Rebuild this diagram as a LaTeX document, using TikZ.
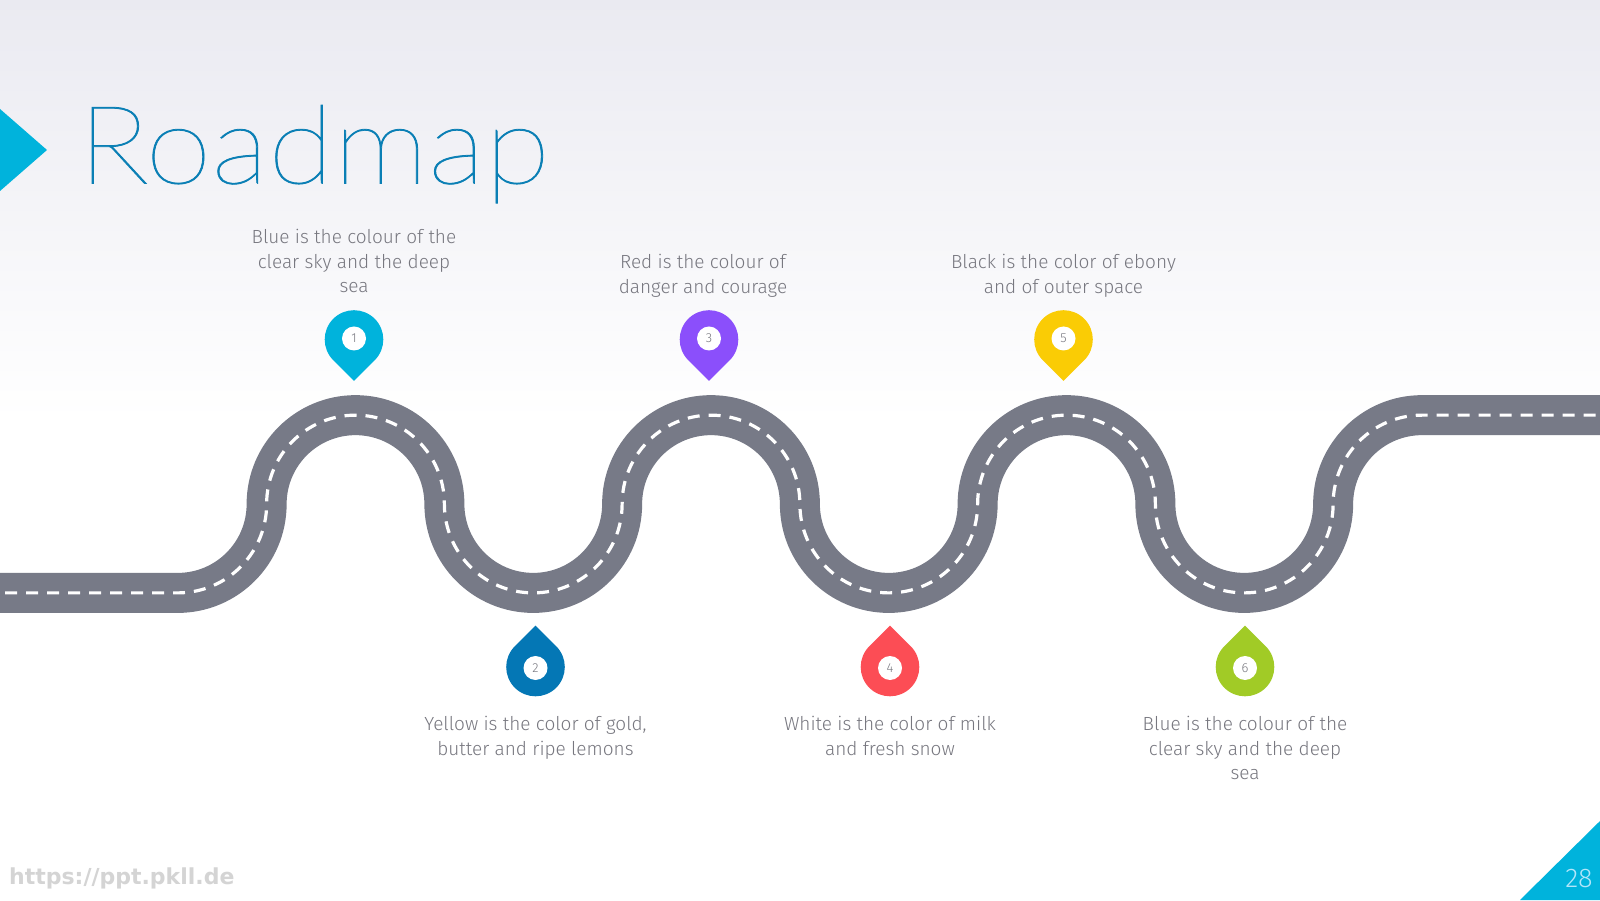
\documentclass[tikz,border=0pt]{standalone}
\usepackage{fontspec}
\setmainfont{Fira Sans Light}
\newfontfamily\titlefont[FakeStretch=1.1,FakeBold=0.7]{Lato Thin}
\newfontfamily\markfont{DejaVu Sans Bold}
\definecolor{bgtop}{HTML}{EAEAF1}
\definecolor{roadgrey}{HTML}{777A87}
\definecolor{cyanmark}{HTML}{00B3DC}
\definecolor{titleblue}{HTML}{0A7FB5}
\definecolor{bodygrey}{HTML}{77777F}
\definecolor{pinone}{HTML}{00B3DC}
\definecolor{pintwo}{HTML}{0477B5}
\definecolor{pinthree}{HTML}{8B4FFB}
\definecolor{pinfour}{HTML}{FC4D55}
\definecolor{pinfive}{HTML}{FACC05}
\definecolor{pinsix}{HTML}{A1CB26}
\tikzset{
  x=1pt,y=1pt,
  caption/.style={align=center,text=bodygrey,font=\fontsize{19}{24.5}\selectfont,inner sep=0pt,
    execute at begin node=\strut,execute at end node=\strut},
  pinhole/.style={circle,fill=white,minimum size=24pt,inner sep=0pt,text=bodygrey,font=\fontsize{13}{13}\selectfont},
}
% drop-shaped marker: #1 name, #2 x, #3 y of the head centre, #4 tip direction (1 down, -1 up), #5 colour, #6 number
\newcommand{\roadpin}[6]{%
  \fill[#5] ({#2+29.3*cos(45-90*#4)},{#3+29.3*sin(45-90*#4)})
     arc[start angle={45-90*#4},delta angle=270,radius=29.3]
     -- (#2,{#3-41.4*#4}) -- cycle;
  \node[pinhole] (#1) at (#2,{#3+#4}) {#6};
}
\begin{document}
\begin{tikzpicture}
\useasboundingbox (0,0) rectangle (1600,900);
\clip (0,0) rectangle (1600,900);
% page background
\fill[white] (0,0) rectangle (1600,900);
\shade[top color=bgtop,bottom color=white] (0,480) rectangle (1600,900);
% corner marks
\fill[cyanmark] (0,791) -- (47,750) -- (0,709) -- cycle;
\fill[cyanmark] (1520,0) -- (1600,79) -- (1600,0) -- cycle;
\node[text=white!70!cyan,font=\fontsize{27}{27}\selectfont,inner sep=0pt] (pageno) at (1579,21.5) {28};
% title
\node[anchor=base west,text=titleblue,font=\titlefont\fontsize{109}{109}\selectfont,inner sep=0pt] (title) at (78,716.5) {Roadmap};
% winding road
\def\roadline{(-16,307.1) -- (177.75,307.1)
  arc[start angle=270,end angle=360,radius=88.875]
  arc[start angle=180,end angle=0,radius=88.875]
  arc[start angle=180,end angle=360,radius=88.875]
  arc[start angle=180,end angle=0,radius=88.875]
  arc[start angle=180,end angle=360,radius=88.875]
  arc[start angle=180,end angle=0,radius=88.875]
  arc[start angle=180,end angle=360,radius=88.875]
  arc[start angle=180,end angle=90,radius=88.875] -- (1620,484.875)}
\draw[roadgrey,line width=40pt] \roadline;
\draw[white,line width=3.2pt,dash pattern=on 12pt off 9pt] \roadline;
% markers
\roadpin{p1}{354}{560.5}{1}{pinone}{1}
\roadpin{p2}{535.5}{233}{-1}{pintwo}{2}
\roadpin{p3}{709}{560.5}{1}{pinthree}{3}
\roadpin{p4}{890}{233}{-1}{pinfour}{4}
\roadpin{p5}{1063.5}{560.5}{1}{pinfive}{5}
\roadpin{p6}{1245}{233}{-1}{pinsix}{6}
% captions
\node[caption] (c1) at (354,635) {Blue is the colour of the\\clear sky and the deep\\sea};
\node[caption] (c2) at (535.5,160.3) {Yellow is the color of gold,\\butter and ripe lemons};
\node[caption] (c3) at (703,622.5) {Red is the colour of\\danger and courage};
\node[caption] (c4) at (890,160.3) {White is the color of milk\\and fresh snow};
\node[caption] (c5) at (1063.5,622.5) {Black is the color of ebony\\and of outer space};
\node[caption] (c6) at (1245,148) {Blue is the colour of the\\clear sky and the deep\\sea};
% address line
\node[anchor=base west,text=black!17,font=\markfont\fontsize{22}{22}\selectfont,inner sep=0pt] (web) at (9,16) {https://ppt.pkll.de};
\end{tikzpicture}
\end{document}
